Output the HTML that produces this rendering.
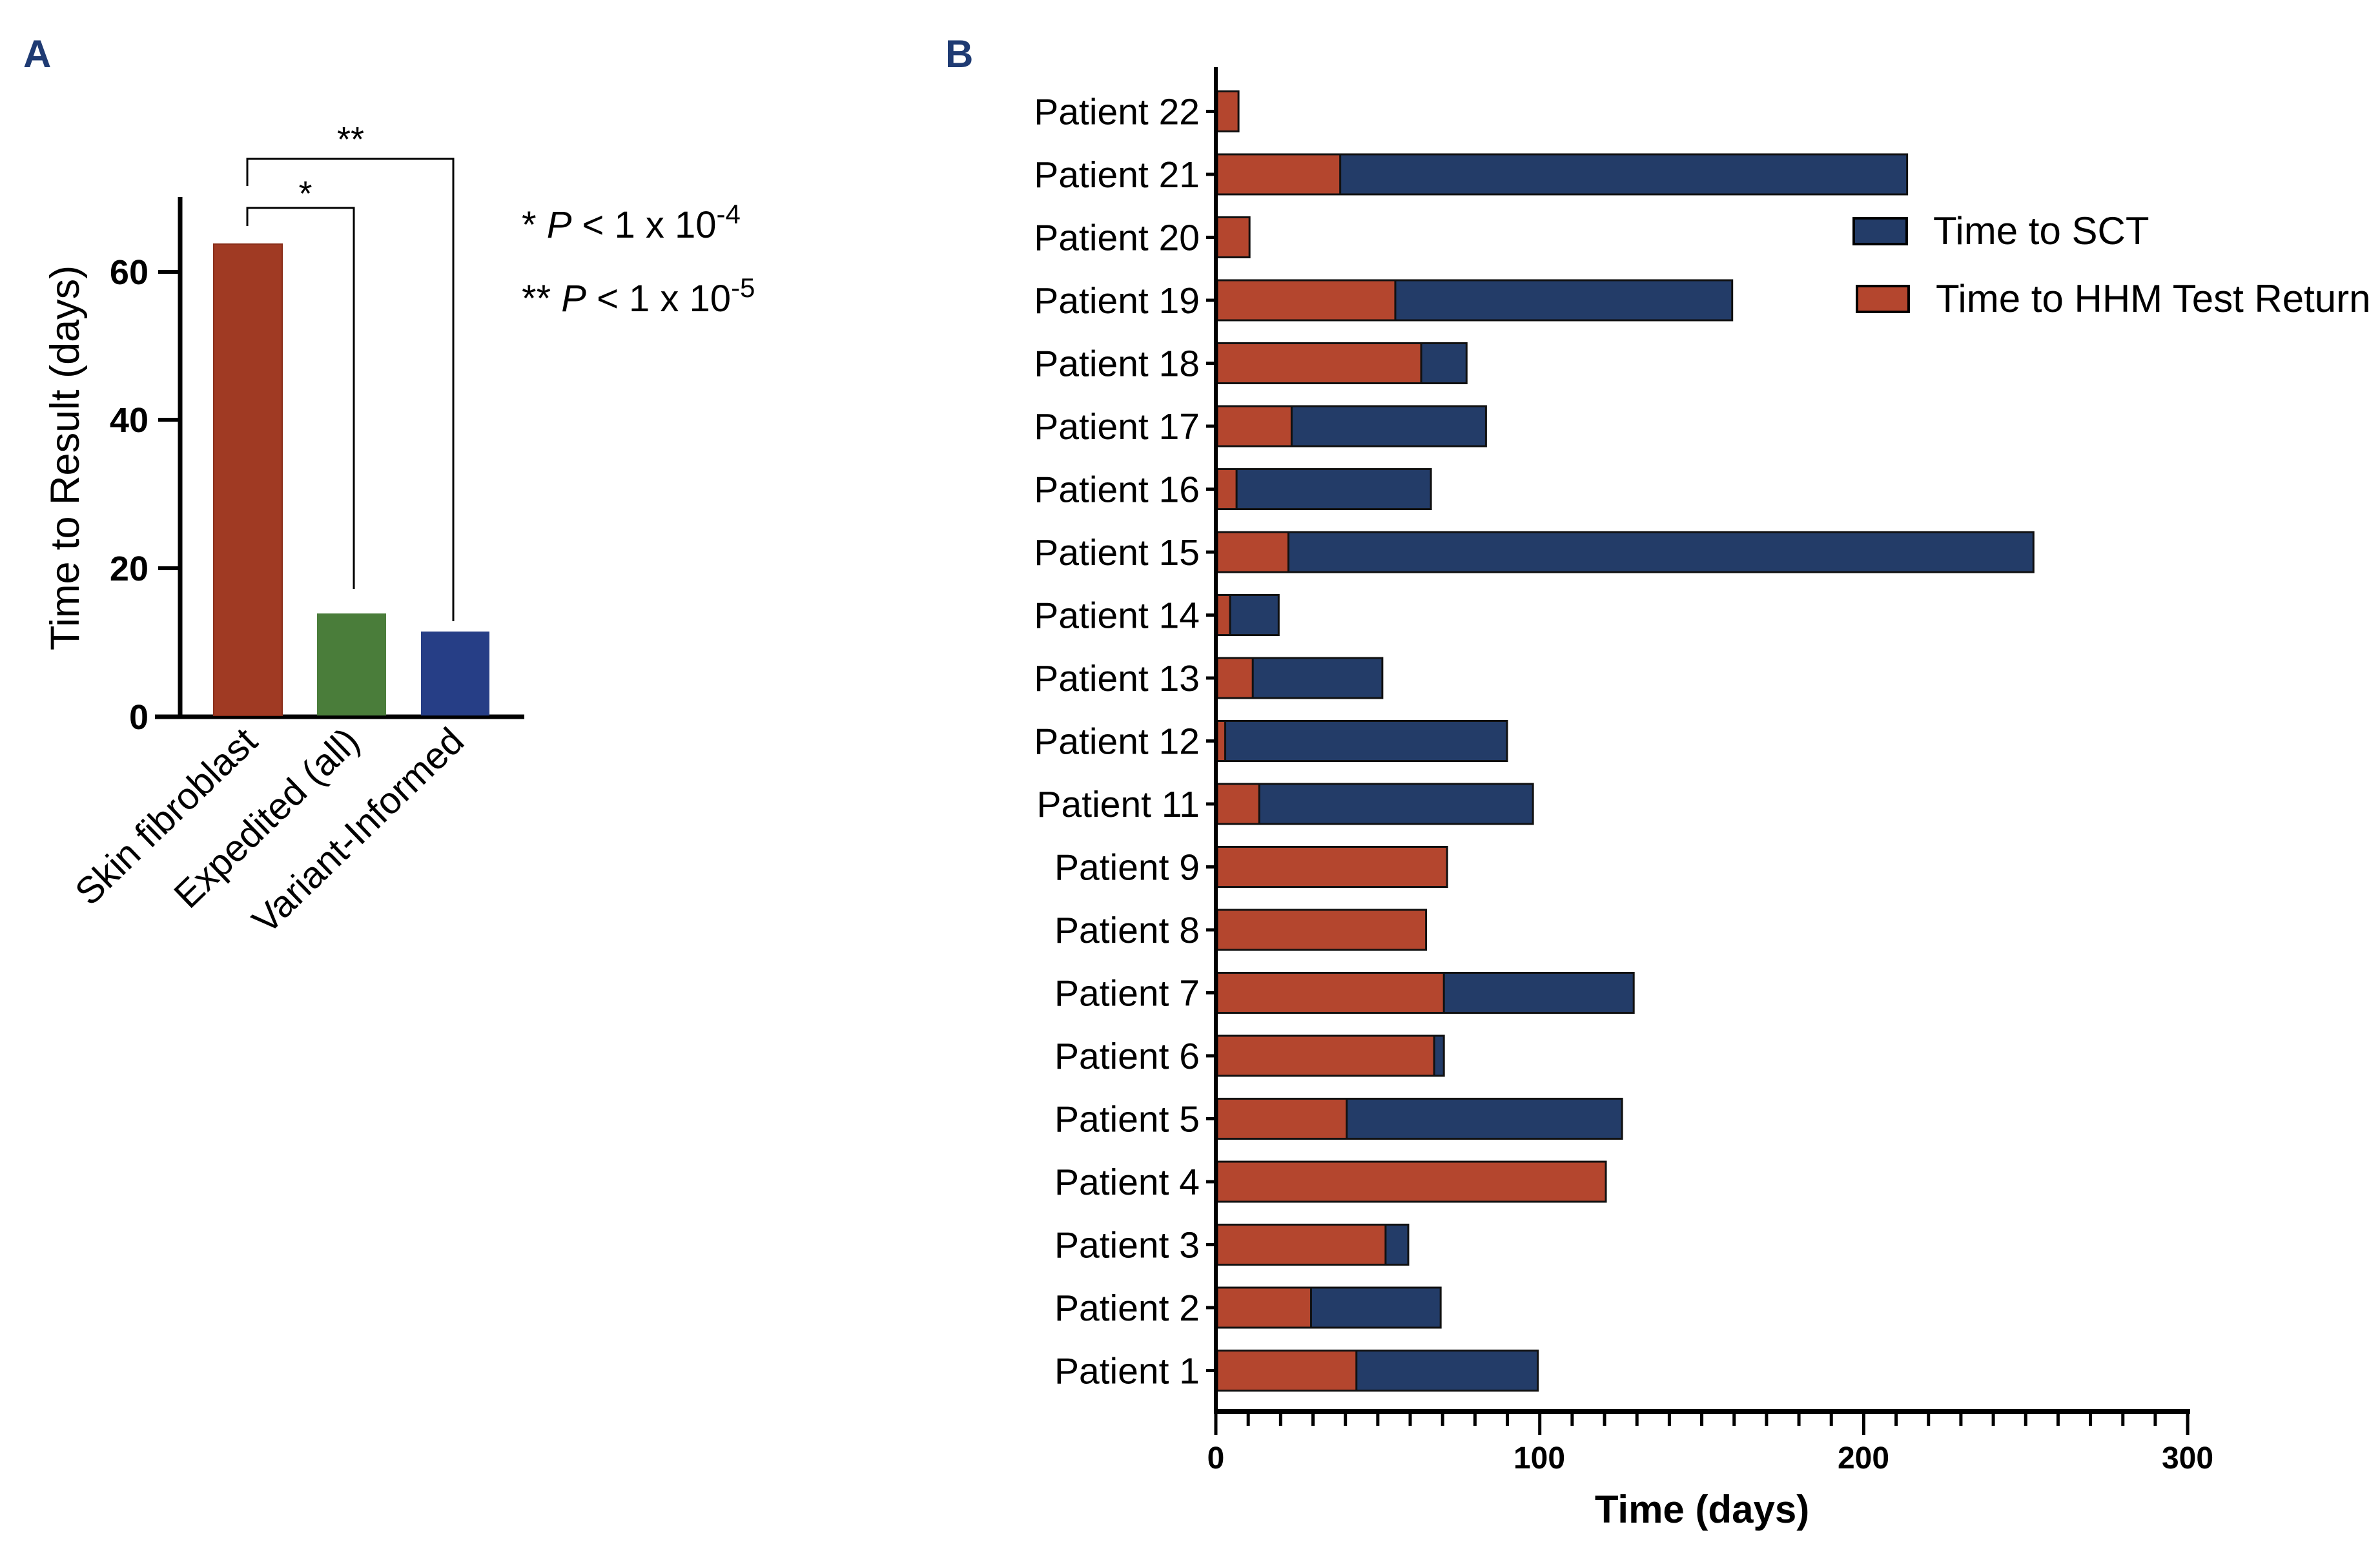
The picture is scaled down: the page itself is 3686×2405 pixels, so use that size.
<!DOCTYPE html>
<html><head><meta charset="utf-8"><style>html,body{margin:0;padding:0;background:#fff}svg{display:block}</style></head>
<body>
<svg width="3686" height="2405" viewBox="0 0 3686 2405" xmlns="http://www.w3.org/2000/svg" font-family="Liberation Sans, sans-serif">
<rect width="3686" height="2405" fill="#fff"/>
<text x="36" y="104" font-size="60" font-weight="bold" fill="#1f3b73">A</text>
<text x="1464" y="104" font-size="60" font-weight="bold" fill="#1f3b73">B</text>
<!-- Panel A -->
<g stroke="#000">
<line x1="279" y1="305" x2="279" y2="1112" stroke-width="7"/>
<line x1="240" y1="1110" x2="812" y2="1110" stroke-width="7"/>
<line x1="245" y1="421" x2="279" y2="421" stroke-width="6"/>
<line x1="245" y1="650" x2="279" y2="650" stroke-width="6"/>
<line x1="245" y1="880" x2="279" y2="880" stroke-width="6"/>
</g>
<g font-size="54" font-weight="bold" text-anchor="end">
<text x="230" y="440">60</text><text x="230" y="669">40</text><text x="230" y="899">20</text><text x="230" y="1129">0</text>
</g>
<text transform="translate(122,709) rotate(-90)" text-anchor="middle" font-size="63">Time to Result (days)</text>
<rect x="331" y="378" width="106" height="730" fill="#a03a23" stroke="#8a2e1a" stroke-width="2"/>
<rect x="491" y="950" width="107" height="158" fill="#4a7d3a"/>
<rect x="652" y="978" width="106" height="130" fill="#263e86"/>
<g stroke="#000" stroke-width="3" fill="none">
<polyline points="383,350 383,322 548,322 548,912"/>
<polyline points="383,288 383,246 702,246 702,962"/>
</g>
<text x="473" y="318" font-size="54" text-anchor="middle">*</text>
<text x="543" y="234" font-size="54" text-anchor="middle">**</text>
<text x="808" y="368" font-size="58">* <tspan font-style="italic">P</tspan> &lt; 1 x 10<tspan dy="-22" font-size="42">-4</tspan></text>
<text x="808" y="482" font-size="58">** <tspan font-style="italic">P</tspan> &lt; 1 x 10<tspan dy="-22" font-size="42">-5</tspan></text>
<g font-size="58" text-anchor="end">
<text transform="translate(402,1152) rotate(-44)">Skin fibroblast</text>
<text transform="translate(560,1152) rotate(-44)">Expedited (all)</text>
<text transform="translate(722,1152) rotate(-44)">Variant-Informed</text>
</g>
<!-- Panel B -->
<g id="bars" stroke="#111" stroke-width="3">
</g>
<g stroke="#000">
<line x1="1883" y1="104" x2="1883" y2="2190" stroke-width="6"/>
<line x1="1880" y1="2186" x2="3392" y2="2186" stroke-width="8"/>
</g>
<g id="ticks" stroke="#000" stroke-width="5"></g>
<g font-size="48" font-weight="bold" text-anchor="middle">
<text x="1883" y="2274">0</text><text x="2384" y="2274">100</text><text x="2886" y="2274">200</text><text x="3388" y="2274">300</text>
</g>
<text x="2636" y="2358" font-size="60" font-weight="bold" text-anchor="middle">Time (days)</text>
<g id="labels" font-size="57" text-anchor="end"></g>
<rect x="2871" y="338" width="82" height="40" fill="#233c68" stroke="#000" stroke-width="4"/>
<text x="2994" y="378" font-size="60">Time to SCT</text>
<rect x="2876" y="443" width="80" height="40" fill="#b4462e" stroke="#000" stroke-width="4"/>
<text x="2998" y="483" font-size="60">Time to HHM Test Return</text>
<script>
var d=[["22",6.6,0],["21",38,213],["20",10,0],["19",55,159],["18",63,77],["17",23,83],["16",6,66],["15",22,252],["14",4,19],["13",11,51],["12",2.5,89.5],["11",13,97.5],["9",71,0],["8",64.5,0],["7",70,128.6],["6",67,70],["5",40,125],["4",120,0],["3",52,59],["2",29,69],["1",43,99]];
var ns="http://www.w3.org/2000/svg",x0=1885,k=5.017;
var B=document.getElementById("bars"),L=document.getElementById("labels"),T=document.getElementById("ticks");
function el(t,a,p){var e=document.createElementNS(ns,t);for(var q in a)e.setAttribute(q,a[q]);p.appendChild(e);return e;}
d.forEach(function(r,i){var cy=172.5+i*97.5,y=cy-31;
 if(r[2]>0) el("rect",{x:x0,y:y,width:r[2]*k,height:62,fill:"#233c68"},B);
 el("rect",{x:x0,y:y,width:r[1]*k,height:62,fill:"#b4462e"},B);
 el("line",{x1:1868,y1:cy,x2:1883,y2:cy,stroke:"#000","stroke-width":5},T);
 var t=el("text",{x:1858,y:cy+20},L);t.textContent="Patient "+r[0];});
for(var v=0;v<=300;v+=10){var x=1883+v*5.017;el("line",{x1:x,y1:2186,x2:x,y2:(v%100==0)?2222:2208},T);}
</script>
</svg>
</body></html>
